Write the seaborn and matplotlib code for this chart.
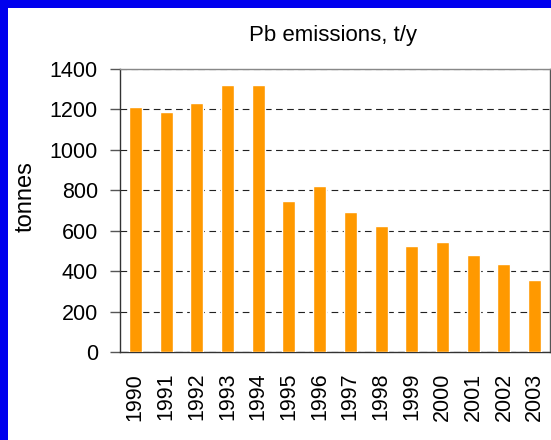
import matplotlib
matplotlib.use("Agg")
import matplotlib.pyplot as plt
import seaborn as sns
import pandas as pd
from matplotlib.patches import Rectangle

years = ["1990", "1991", "1992", "1993", "1994", "1995", "1996", "1997",
         "1998", "1999", "2000", "2001", "2002", "2003"]
emissions = [1210, 1187, 1232, 1322, 1322, 747, 821, 693, 623, 524, 544, 480, 435, 356]
yticks = [0, 200, 400, 600, 800, 1000, 1200, 1400]

df = pd.DataFrame({"year": years, "tonnes": emissions})

sns.set_theme(style="white")
plt.rcParams["font.family"] = ["Liberation Sans", "DejaVu Sans"]

W, H = 551, 440
fig = plt.figure(figsize=(W / 100, H / 100), dpi=100)
fig.patch.set_facecolor("white")
ax = fig.add_axes([120 / W, (H - 352) / H, 430 / W, 283 / H])
ax.set_facecolor("white")

sns.barplot(data=df, x="year", y="tonnes", color="#FF9900", width=0.42,
            saturation=1, ax=ax, zorder=3)

ax.set_xlim(-0.5, len(years) - 0.5)
ax.set_ylim(0, 1400)
ax.set_yticks(yticks)
ax.set_yticklabels([str(v) for v in yticks])
ax.yaxis.grid(True, color="#222222", linewidth=0.8, linestyle=(0, (6, 4)), zorder=1)
ax.xaxis.grid(False)

ax.set_xticks(range(len(years)))
ax.set_xticklabels(years, rotation=90, fontsize=15.5)
ax.set_xticks([i - 0.5 for i in range(len(years) + 1)], minor=True)
ax.tick_params(axis="x", which="major", length=0, pad=15)
ax.tick_params(axis="x", which="minor", length=7, width=1, color="#555555", direction="out")
ax.tick_params(axis="y", which="major", length=7, width=1, color="#555555", direction="out",
               pad=9, labelsize=15.5, left=True)
ax.tick_params(labelcolor="black")

ax.set_xlabel("")
ax.set_ylabel("tonnes", fontsize=17, color="black")
ax.yaxis.set_label_coords(-0.195, 0.55)

for name, sp in ax.spines.items():
    sp.set_visible(True)
    sp.set_color("#333333")
    sp.set_linewidth(1)
ax.spines["top"].set_color("#888888")
ax.spines["right"].set_color("#555555")

fig.text(333 / W, 1 - 36 / H, "Pb emissions, t/y", ha="center", va="center",
         fontsize=16, color="black")

# blue frame on top and left
fig.patches.append(Rectangle((0, 0), 8 / W, 1, transform=fig.transFigure,
                             facecolor="#0000EE", edgecolor="none", zorder=10))
fig.patches.append(Rectangle((0, 1 - 8 / H), 1, 8 / H, transform=fig.transFigure,
                             facecolor="#0000EE", edgecolor="none", zorder=10))

fig.savefig("out.png", dpi=100, facecolor="white")
